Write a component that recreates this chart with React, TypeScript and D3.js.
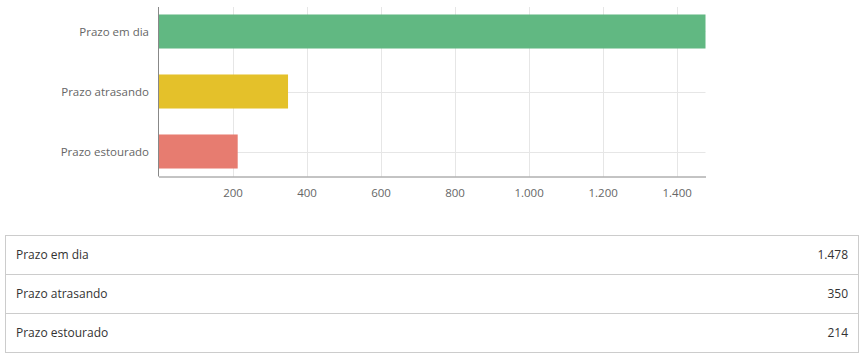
import React, { useRef, useEffect } from "react";
import * as d3 from "d3";

const categories = ["Prazo em dia", "Prazo atrasando", "Prazo estourado"];
const values = [1478, 350, 214];
const barColors = ["#61b882", "#e4c12a", "#e77c70"];
const tickValues = [200, 400, 600, 800, 1000, 1200, 1400];

const ptBR = d3.formatLocale({
  decimal: ",",
  thousands: ".",
  grouping: [3],
  currency: ["R$", ""],
});
const fmt = ptBR.format(",d");

const WIDTH = 864;
const HEIGHT = 359;
const FONT = "'Open Sans', 'Noto Sans', sans-serif";

const App = () => {
  const chartRef = useRef<SVGSVGElement | null>(null);

  useEffect(() => {
    if (!chartRef.current) return;
    const svg = d3.select(chartRef.current);
    svg.selectAll("*").remove();

    // plot area
    const plot = { left: 158.5, right: 705.5, top: 7, bottom: 176.5 };

    const x = d3
      .scaleLinear()
      .domain([0, d3.max(values) as number])
      .range([plot.left, plot.right]);

    const y = d3
      .scaleBand<string>()
      .domain(categories)
      .range([1.5, 181.5])
      .paddingInner(0.433)
      .paddingOuter(0.2165);

    const chart = svg.append("g");

    // vertical grid lines
    chart
      .append("g")
      .selectAll("line")
      .data(tickValues)
      .enter()
      .append("line")
      .attr("x1", (d) => Math.round(x(d)) + 0.5)
      .attr("x2", (d) => Math.round(x(d)) + 0.5)
      .attr("y1", plot.top)
      .attr("y2", plot.bottom)
      .attr("stroke", "#e6e6e6")
      .attr("stroke-width", 1);

    // horizontal grid lines through band centres
    chart
      .append("g")
      .selectAll("line")
      .data(categories)
      .enter()
      .append("line")
      .attr("x1", plot.left)
      .attr("x2", plot.right)
      .attr("y1", (d) => Math.round((y(d) || 0) + y.bandwidth() / 2) + 0.5)
      .attr("y2", (d) => Math.round((y(d) || 0) + y.bandwidth() / 2) + 0.5)
      .attr("stroke", "#e6e6e6")
      .attr("stroke-width", 1);

    // bars
    chart
      .append("g")
      .selectAll("rect")
      .data(values)
      .enter()
      .append("rect")
      .attr("x", x(0))
      .attr("y", (_, i) => y(categories[i]) || 0)
      .attr("width", (d) => x(d) - x(0))
      .attr("height", y.bandwidth())
      .attr("fill", (_, i) => barColors[i]);

    // category labels
    chart
      .append("g")
      .selectAll("text")
      .data(categories)
      .enter()
      .append("text")
      .attr("x", 149)
      .attr("y", (d) => (y(d) || 0) + y.bandwidth() / 2)
      .attr("dy", "0.35em")
      .attr("text-anchor", "end")
      .style("font-family", FONT)
      .style("font-size", "11.5px")
      .style("fill", "#666666")
      .text((d) => d);

    // left axis line
    chart
      .append("line")
      .attr("x1", plot.left)
      .attr("x2", plot.left)
      .attr("y1", plot.top)
      .attr("y2", plot.bottom)
      .attr("stroke", "#888888")
      .attr("stroke-width", 1);

    // bottom axis
    chart
      .append("g")
      .attr("transform", `translate(0,${plot.bottom})`)
      .call(
        d3
          .axisBottom(x)
          .tickValues(tickValues)
          .tickSize(0)
          .tickPadding(12)
          .tickFormat((d) => fmt(d as number))
      )
      .call((g) =>
        g.select(".domain").attr("stroke", "#888888").attr("stroke-width", 1)
      )
      .selectAll("text")
      .style("font-family", FONT)
      .style("font-size", "11.5px")
      .style("fill", "#666666");

    // table
    const table = { left: 5.5, right: 858.5, top: 235.5, rowH: 39 };
    const tg = svg.append("g");

    tg.append("rect")
      .attr("x", table.left)
      .attr("y", table.top)
      .attr("width", table.right - table.left)
      .attr("height", table.rowH * categories.length)
      .attr("fill", "none")
      .attr("stroke", "#cccccc");

    tg.selectAll(".row-line")
      .data(categories.slice(1))
      .enter()
      .append("line")
      .attr("class", "row-line")
      .attr("x1", table.left)
      .attr("x2", table.right)
      .attr("y1", (_, i) => table.top + table.rowH * (i + 1))
      .attr("y2", (_, i) => table.top + table.rowH * (i + 1))
      .attr("stroke", "#cccccc");

    tg.selectAll(".row-label")
      .data(categories)
      .enter()
      .append("text")
      .attr("class", "row-label")
      .attr("x", 16)
      .attr("y", (_, i) => table.top + table.rowH * i + table.rowH / 2)
      .attr("dy", "0.35em")
      .style("font-family", FONT)
      .style("font-size", "12px")
      .style("fill", "#333333")
      .text((d) => d);

    tg.selectAll(".row-value")
      .data(values)
      .enter()
      .append("text")
      .attr("class", "row-value")
      .attr("x", 848)
      .attr("y", (_, i) => table.top + table.rowH * i + table.rowH / 2)
      .attr("dy", "0.35em")
      .attr("text-anchor", "end")
      .style("font-family", FONT)
      .style("font-size", "12px")
      .style("fill", "#333333")
      .text((d) => fmt(d));
  }, []);

  return (
    <svg
      ref={chartRef}
      width={WIDTH}
      height={HEIGHT}
      style={{ position: "absolute", left: 0, top: 0, background: "#ffffff" }}
    />
  );
};

export default App;
